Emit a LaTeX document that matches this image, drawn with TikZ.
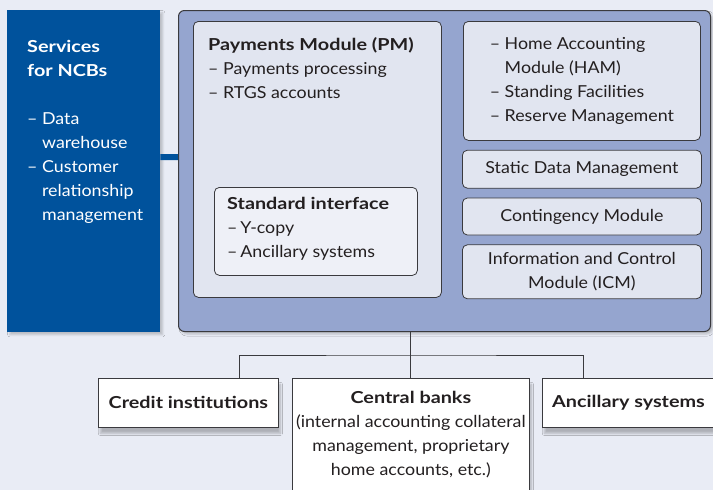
\documentclass[tikz,border=0pt]{standalone}
\usepackage{fontspec}
\setmainfont{Lato}[UprightFeatures={FakeStretch=1.08}, BoldFeatures={FakeStretch=1.2}]
\usetikzlibrary{positioning,shadows.blur}

\definecolor{bgcol}{RGB}{233,236,245}
\definecolor{navy}{RGB}{0,82,156}
\definecolor{corefill}{RGB}{149,165,207}
\definecolor{modfill}{RGB}{225,229,240}
\definecolor{sifill}{RGB}{238,240,247}
\definecolor{edge}{RGB}{58,58,62}
\definecolor{ink}{RGB}{35,31,32}

\newcommand{\dd}{--~}
\newcommand{\hang}{\phantom{--~}}

\tikzset{
  txt/.style={text=ink, align=left, inner sep=0pt, font=\fontsize{16.5}{24}\selectfont},
  module/.style={draw=edge, fill=modfill, line width=0.8pt, rounded corners=5pt, inner sep=0pt,
    text=ink, font=\fontsize{16.5}{24}\selectfont},
  party/.style={draw=edge, fill=white, line width=0.8pt, inner sep=0pt, text=ink,
    font=\fontsize{16.5}{24}\selectfont\bfseries,
    blur shadow={shadow xshift=2pt, shadow yshift=-6pt, shadow blur steps=8, shadow opacity=25}},
}

\begin{document}
\begin{tikzpicture}[x=1pt,y=-1pt]
  \useasboundingbox[fill=bgcol] (0,0) rectangle (713,490);

  % Define nodes
  \node[fill=navy, minimum width=153, minimum height=322, anchor=north west,
        blur shadow={shadow opacity=20}] (ncb) at (7,10) {};
  \node[txt, text=white, below right=30pt and 20pt of ncb.north west]
    (ncbtxt) {\bfseries Services\\\bfseries for NCBs\\[24pt]
              \dd Data\\\hang warehouse\\\dd Customer\\\hang relationship\\\hang management};

  \node[fill=corefill, draw=edge, line width=1pt, rounded corners=6pt, minimum width=532,
        minimum height=321, anchor=north west, blur shadow={shadow opacity=20}] (core) at (178,10) {};

  \node[module, minimum width=248, minimum height=276, anchor=north west] (pm) at (193,21) {};
  \node[txt, below right=16pt and 15pt of pm.north west]
    (pmtxt) {\bfseries Payments Module (PM)\\\dd Payments processing\\\dd RTGS accounts};

  \node[module, fill=sifill, minimum width=203, minimum height=88, anchor=north west] (si) at (214,187) {};
  \node[txt, below right=10pt and 13pt of si.north west]
    (sitxt) {\bfseries Standard interface\\--\,Y-copy\\--\,Ancillary systems};

  \node[module, align=left, minimum width=237, minimum height=119, anchor=north west] (ham) at (463,21)
    {\dd Home Accounting\\\hang Module (HAM)\\\dd Standing Facilities\\\dd Reserve Management};
  \node[module, minimum width=239, minimum height=38, below=9pt of ham] (sdm) {Static Data Management};
  \node[module, minimum width=239, minimum height=37, below=9pt of sdm] (cm) {Contingency Module};
  \node[module, align=center, minimum width=239, minimum height=54, below=9pt of cm]
    (icm) {Information and Control\\Module (ICM)};

  \node[party, minimum width=180, minimum height=49, anchor=north west] (ci) at (98,378) {Credit institutions};
  \node[party, minimum width=237, minimum height=140, anchor=north west] (cb) at (292,378) {};
  \node[txt, align=center, below=13pt of cb.north]
    (cbtxt) {{\bfseries Central banks}\\(internal accounting collateral\\management, proprietary\\home accounts, etc.)};
  \node[party, minimum width=190, minimum height=49, anchor=north west] (as) at (542,378) {};
  \node[txt, font=\fontsize{16.5}{24}\selectfont\bfseries, right=10pt of as.west] (astxt) {Ancillary systems};

  % Connect the nodes
  \draw[navy, line width=6pt] ([yshift=14pt]ncb.east) -- ([yshift=14pt]core.west);
  \coordinate[above=23pt of cb.north] (bus);
  \draw[edge, line width=1pt] (cb.north) -- (cb.north |- core.south);
  \draw[edge, line width=1pt] ([xshift=51pt]ci.north) |- (bus) -| ([xshift=-54pt]as.north);
\end{tikzpicture}
\end{document}
